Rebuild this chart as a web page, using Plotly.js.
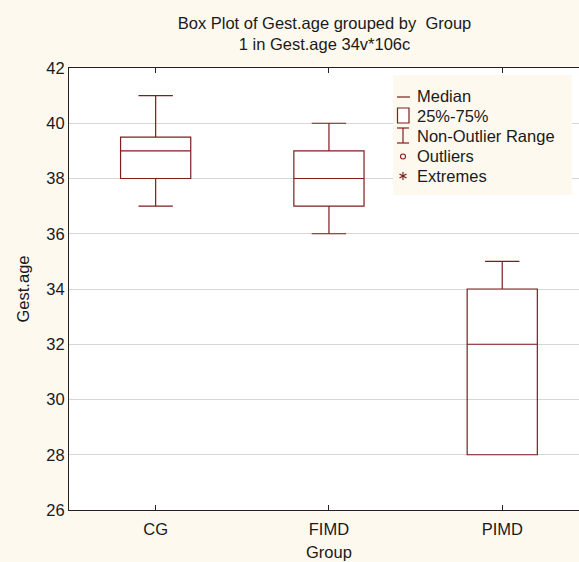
<!DOCTYPE html>
<html>
<head>
<meta charset="utf-8">
<script src="https://cdn.plot.ly/plotly-3.0.1.min.js"></script>
<style>
html,body{margin:0;padding:0;overflow:hidden;background:#fef9ef;}
#chart{width:579px;height:562px;}
</style>
</head>
<body>
<div id="chart"></div>
<script>
const groups = ["CG", "FIMD", "PIMD"];
const minValues = [37, 36, 28];
const q1Values = [38, 37, 28];
const medianValues = [39, 38, 32];
const q3Values = [39.5, 39, 34];
const maxValues = [41, 40, 35];
const legendLabels = ["Median", "25%-75%", "Non-Outlier Range", "Outliers", "Extremes"];
const yTicks = [26, 28, 30, 32, 34, 36, 38, 40, 42];

const boxColor = "#7f1d1d";
const FONT = "Liberation Sans, Arial, sans-serif";
const FS = 16.5;
const TXT = "#1a1a1a";

// pixel -> paper helpers (plot area: x 69..579, y 68..510)
const PL = 69, PW = 510, PT = 68, PH = 442;
const px = v => (v - PL) / PW;
const py = v => (PT + PH - v) / PH;

const traces = [{
  type: "box",
  x: groups,
  q1: q1Values,
  median: medianValues,
  q3: q3Values,
  lowerfence: minValues,
  upperfence: maxValues,
  width: 0.405,
  whiskerwidth: 0.49,
  fillcolor: "rgba(255,255,255,0)",
  line: {color: boxColor, width: 1.2},
  showlegend: false,
  hoverinfo: "skip"
}];

// legend (drawn as shapes + annotations)
const legendRowY = [96, 116, 136, 156, 176];
const shapes = [];
const annotations = [];
shapes.push({type: "rect", xref: "paper", yref: "paper", x0: px(393), x1: px(572), y0: py(75), y1: py(195),
  fillcolor: "#fef9ef", line: {width: 0}, layer: "above"});
const L = (x0, y0, x1, y1) => shapes.push({type: "line", xref: "paper", yref: "paper",
  x0: px(x0), x1: px(x1), y0: py(y0), y1: py(y1), line: {color: boxColor, width: 1.2}, layer: "above"});
// Median
L(397, legendRowY[0] + 1, 410, legendRowY[0] + 1);
// 25%-75%
shapes.push({type: "rect", xref: "paper", yref: "paper", x0: px(397.5), x1: px(409), y0: py(108), y1: py(123),
  fillcolor: "#ffffff", line: {color: boxColor, width: 1.2}, layer: "above"});
// Non-Outlier Range
L(397, 128, 409, 128); L(403, 128, 403, 143); L(397, 143, 409, 143);
// Outliers
shapes.push({type: "circle", xref: "paper", yref: "paper", x0: px(400.5), x1: px(405.5), y0: py(154), y1: py(159),
  fillcolor: "rgba(0,0,0,0)", line: {color: boxColor, width: 1.1}, layer: "above"});
// Extremes (asterisk)
L(403, 172, 403, 180); L(399.5, 174, 406.5, 178); L(399.5, 178, 406.5, 174);

legendLabels.forEach((lab, i) => {
  annotations.push({text: lab, xref: "paper", yref: "paper", x: px(415), y: py(legendRowY[i]),
    xanchor: "left", yanchor: "middle", showarrow: false,
    font: {family: FONT, size: FS, color: TXT}});
});

// x-axis title
annotations.push({text: "Group", xref: "paper", yref: "paper", x: px(329), y: py(552),
  xanchor: "center", yanchor: "middle", showarrow: false,
  font: {family: FONT, size: FS, color: TXT}});

const layout = {
  width: 579,
  height: 562,
  paper_bgcolor: "#fef9ef",
  plot_bgcolor: "#ffffff",
  margin: {l: 69, r: 0, t: 68, b: 52},
  font: {family: FONT, size: FS, color: TXT},
  title: {
    text: "Box Plot of Gest.age grouped by\u00a0 Group<br>1 in Gest.age 34v*106c",
    font: {family: FONT, size: FS, color: TXT},
    x: (324.5 - PL) / PW, xref: "paper", xanchor: "center",
    y: 1 - 29/562, yref: "container", yanchor: "top"
  },
  xaxis: {
    type: "category",
    range: [-0.5, -0.5 + PW / 173.3],
    showline: true, linecolor: "#222", linewidth: 1, mirror: "ticks",
    ticks: "inside", ticklen: 5, tickcolor: "#222",
    ticklabelstandoff: 4,
    showgrid: false, zeroline: false,
    automargin: false,
    tickfont: {family: FONT, size: FS, color: TXT}
  },
  yaxis: {
    range: [26, 42],
    tickvals: yTicks,
    showline: true, linecolor: "#222", linewidth: 1, mirror: false,
    ticks: "",
    showgrid: true, gridcolor: "#d6d6d6", gridwidth: 1,
    zeroline: false,
    automargin: false,
    tickfont: {family: FONT, size: FS, color: TXT},
    title: {text: "Gest.age", font: {family: FONT, size: FS, color: TXT}, standoff: 12}
  },
  shapes: shapes,
  annotations: annotations,
  showlegend: false
};

Plotly.newPlot("chart", traces, layout, {displayModeBar: false, staticPlot: true});
</script>
</body>
</html>
